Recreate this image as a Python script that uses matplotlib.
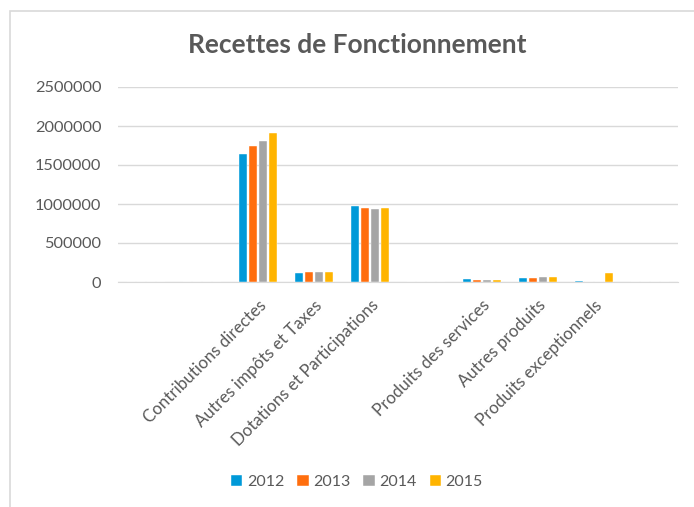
import numpy as np
import matplotlib.pyplot as plt
from matplotlib.patches import Rectangle

plt.rcParams['font.family'] = ['Lato', 'DejaVu Sans']

# categories (blank ones are empty rows in the source sheet)
categories = ['', '', 'Contributions directes', 'Autres impôts et Taxes',
              'Dotations et Participations', '', 'Produits des services',
              'Autres produits', 'Produits exceptionnels', '']
years = ['2012', '2013', '2014', '2015']
v2012 = [0, 0, 1641000, 111000, 974000, 0, 35000, 51000, 8000, 0]
v2013 = [0, 0, 1744000, 124000, 953000, 0, 22000, 51000, 0, 0]
v2014 = [0, 0, 1808000, 124000, 940000, 0, 22000, 64000, 0, 0]
v2015 = [0, 0, 1910000, 128000, 953000, 0, 30000, 58000, 120000, 0]
yticks = [0, 500000, 1000000, 1500000, 2000000, 2500000]

colors = ['#0099D8', '#FF6E0E', '#A5A5A5', '#FFB400']
txtcol = '#595959'

fig = plt.figure(figsize=(6.94, 5.07), dpi=100)
ax = fig.add_axes([118/694, 1-282/507, 560/694, 195/507])

# chart border
fig.patches.append(Rectangle((9.5/694, -0.1), 1.0, 1.1 - 10.5/507,
                             transform=fig.transFigure, fill=False,
                             edgecolor='#D9D9D9', lw=1.2))

x = np.arange(len(categories))
series = [v2012, v2013, v2014, v2015]
pitch = 10/56
w = 8.4/56
for i, (vals, c) in enumerate(zip(series, colors)):
    ax.bar(x + (i - 1.5)*pitch, vals, w, color=c, label=years[i],
           edgecolor='white', linewidth=0.3, zorder=3)

ax.set_xlim(-0.5, len(categories) - 0.5)
ax.set_ylim(0, 2500000)
ax.set_yticks(yticks)
ax.set_yticklabels([str(t) for t in yticks])
ax.grid(axis='y', color='#D9D9D9', lw=1, zorder=0)
ax.set_xticks(x)
ax.set_xticklabels(categories, rotation=45, ha='right', rotation_mode='anchor')
for s in ['top', 'right', 'left']:
    ax.spines[s].set_visible(False)
ax.spines['bottom'].set_color('#D9D9D9')
ax.tick_params(axis='y', length=0, colors=txtcol, labelsize=11.8, pad=12)
ax.tick_params(axis='x', length=0, colors=txtcol, labelsize=12.2, pad=11)

fig.text(357/694, 1-45/507, 'Recettes de Fonctionnement', ha='center',
         va='center', fontsize=19, fontweight='bold', color=txtcol)

leg = ax.legend(loc='center', bbox_to_anchor=(357/694, 1-482/507),
                bbox_transform=fig.transFigure, ncol=4, frameon=False,
                fontsize=11.5, handlelength=0.7, handleheight=0.7,
                handletextpad=0.3, columnspacing=0.8)
for t in leg.get_texts():
    t.set_color(txtcol)

fig.savefig('out.png', dpi=100)
